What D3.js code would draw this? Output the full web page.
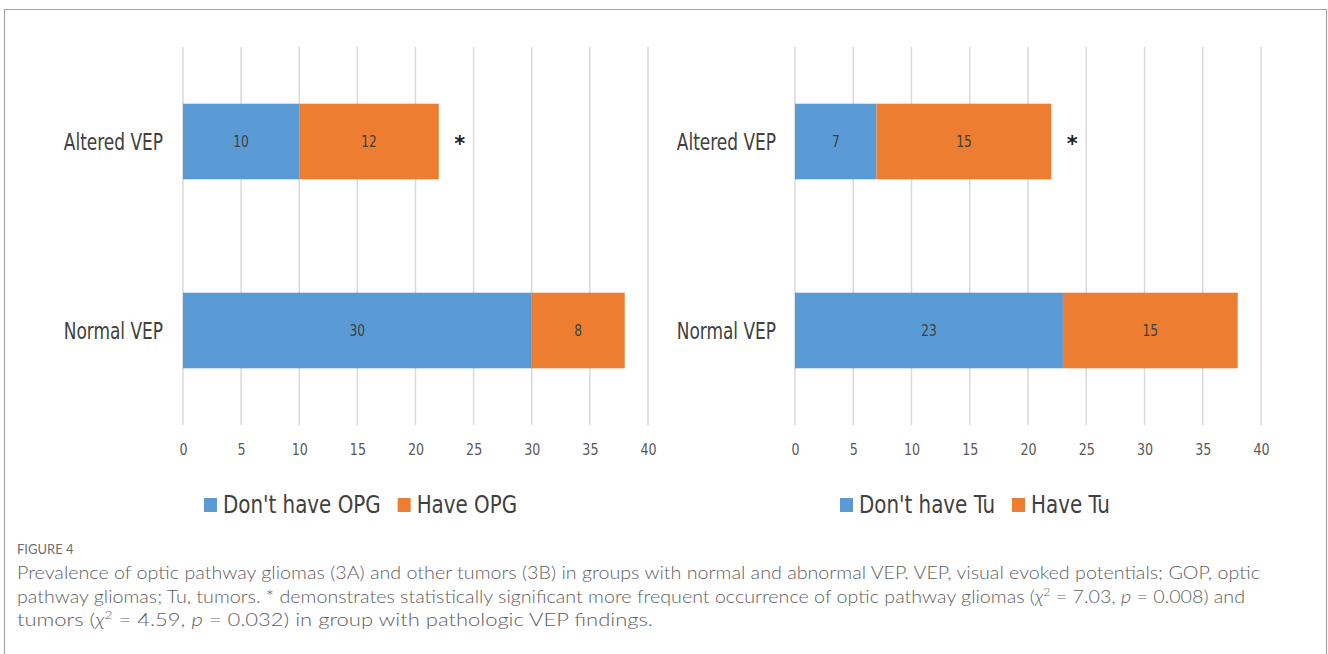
<!DOCTYPE html>
<html>
<head>
<meta charset="utf-8">
<script src="https://cdn.jsdelivr.net/npm/d3@7"></script>
<style>
html,body{margin:0;padding:0;background:#fff;}
svg{display:block;}
.narrow{font-family:"Liberation Sans Narrow","DejaVu Sans Condensed","Roboto Condensed",sans-serif;}
.cap{font-family:"Lato","Open Sans",sans-serif;}
</style>
</head>
<body>
<svg id="c" width="1328" height="654"></svg>
<script>
const categories = ["Altered VEP", "Normal VEP"];
const seriesA = ["Don't have OPG", "Have OPG"];
const seriesB = ["Don't have Tu", "Have Tu"];
const dontHaveOPG = [10, 30];
const haveOPG = [12, 8];
const dontHaveTu = [7, 23];
const haveTu = [15, 15];
const significance = ["*", ""];
const tickValues = [0, 5, 10, 15, 20, 25, 30, 35, 40];
const colors = ["#5B9BD5", "#ED7D31"];

const svg = d3.select("#c");

function squeeze(sel, k) {
  let last = 0;
  sel.each(function() {
    const w = this.getComputedTextLength();
    last = w * k;
    d3.select(this).attr("textLength", last).attr("lengthAdjust", "spacingAndGlyphs");
  });
  return last;
}

// frame
svg.append("path").attr("d", "M4.5,654 V9.5 H1326.5 V654")
  .attr("fill", "none").attr("stroke", "#a6a6a6").attr("stroke-width", 1.2);

function panel(x0, x1, labelRight, s1, s2, names, legendX) {
  const x = d3.scaleLinear().domain([0, 40]).range([x0, x1]);
  const y = d3.scaleBand().domain(categories).range([47, 425]).paddingInner(0.6).paddingOuter(0.3);
  const g = svg.append("g");
  g.selectAll(".grid").data(tickValues).join("line")
    .attr("x1", d => x(d)).attr("x2", d => x(d)).attr("y1", 47).attr("y2", 425)
    .attr("stroke", "#d9d9d9").attr("stroke-width", 1.5);
  const stacks = categories.map((c, i) => [
    { c, s: 0, a: 0, b: s1[i] },
    { c, s: 1, a: s1[i], b: s1[i] + s2[i] }
  ]).flat();
  g.selectAll(".bar").data(stacks).join("rect")
    .attr("x", d => x(d.a)).attr("width", d => x(d.b) - x(d.a))
    .attr("y", d => y(d.c)).attr("height", y.bandwidth())
    .attr("fill", d => colors[d.s]);
  const vals = g.selectAll(".val").data(stacks).join("text").attr("class", "narrow")
    .attr("x", d => (x(d.a) + x(d.b)) / 2).attr("y", d => y(d.c) + y.bandwidth() / 2)
    .attr("dy", "0.35em").attr("text-anchor", "middle").attr("font-size", 16)
    .attr("fill", "#404040").text(d => d.b - d.a);
  squeeze(vals, 0.85);
  g.selectAll(".sig").data(categories).join("text")
    .attr("x", (c, i) => x(s1[i] + s2[i]) + 21).attr("y", c => y(c) + y.bandwidth() / 2 + 9)
    .attr("text-anchor", "middle").attr("font-size", 21).attr("font-weight", "bold")
    .attr("font-family", "DejaVu Sans, sans-serif").attr("fill", "#222")
    .text((c, i) => significance[i]);
  const cats = g.selectAll(".cat").data(categories).join("text").attr("class", "narrow")
    .attr("x", labelRight).attr("y", c => y(c) + y.bandwidth() / 2).attr("dy", "0.35em")
    .attr("text-anchor", "end").attr("font-size", 23).attr("fill", "#404040").text(c => c);
  squeeze(cats, 0.82);
  const ax = g.append("g").attr("transform", "translate(0,444)")
    .call(d3.axisBottom(x).tickValues(tickValues).tickSize(0).tickPadding(0).tickFormat(d3.format("d")));
  ax.select(".domain").remove();
  const tl = ax.selectAll("text").attr("class", "narrow").attr("font-size", 16).attr("fill", "#595959").attr("dy", "0.71em");
  squeeze(tl, 0.88);
  const lg = g.append("g").attr("transform", `translate(${legendX},505)`);
  let off = 0;
  names.forEach((n, i) => {
    const it = lg.append("g").attr("transform", `translate(${off},0)`);
    it.append("rect").attr("x", 0).attr("y", -7).attr("width", 13).attr("height", 14).attr("fill", colors[i]);
    const t = it.append("text").attr("class", "narrow").attr("x", 19).attr("dy", "0.35em")
      .attr("font-size", 24).attr("fill", "#404040").text(n);
    const w = squeeze(t, 0.92);
    off += 19 + w + 17;
  });
}

panel(183, 648, 163, dontHaveOPG, haveOPG, seriesA, 204);
panel(795, 1261, 776, dontHaveTu, haveTu, seriesB, 840);

// caption
const cap = svg.append("g").attr("class", "cap").attr("fill", "#5f6062");
cap.append("text").attr("x", 17).attr("y", 554).attr("font-size", 13).attr("fill", "#6d6e70").text("FIGURE 4");
const lines = [
  [{ t: "Prevalence of optic pathway gliomas (3A) and other tumors (3B) in groups with normal and abnormal VEP. VEP, visual evoked potentials; GOP, optic" }],
  [{ t: "pathway gliomas; Tu, tumors. * demonstrates statistically significant more frequent occurrence of optic pathway gliomas (" },
   { t: "χ", i: true }, { t: "2", sup: true }, { t: " = 7.03, ", after: true }, { t: "p", i: true }, { t: " = 0.008) and" }],
  [{ t: "tumors (" }, { t: "χ", i: true }, { t: "2", sup: true }, { t: " = 4.59, ", after: true }, { t: "p", i: true }, { t: " = 0.032) in group with pathologic VEP findings." }]
];
const lineEnds = [1260, 1245, 653];
lines.forEach((parts, li) => {
  const tx = cap.append("text").attr("x", 17).attr("y", 579 + li * 23.5).attr("font-size", 17.5).attr("font-weight", 300);
  parts.forEach(p => {
    const ts = tx.append("tspan").text(p.t);
    if (p.i) ts.attr("font-style", "italic");
    if (p.sup) ts.attr("font-size", 11).attr("dy", -7);
    if (p.after) ts.attr("dy", 7);
  });
  tx.attr("textLength", lineEnds[li] - 17).attr("lengthAdjust", "spacingAndGlyphs");
});
</script>
</body>
</html>
